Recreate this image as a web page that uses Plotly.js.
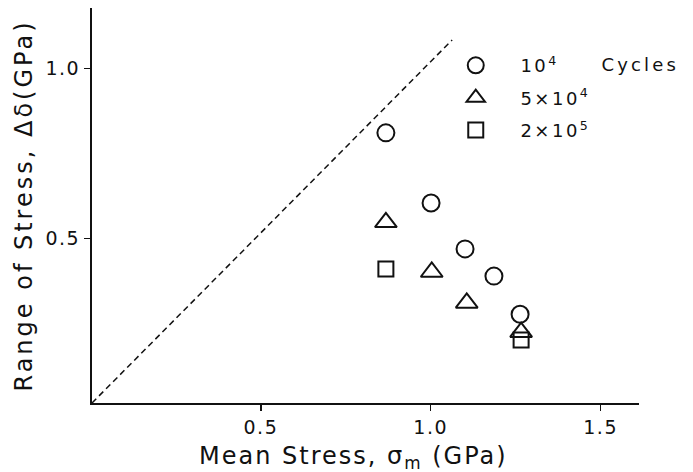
<!DOCTYPE html>
<html><head><meta charset="utf-8">
<script src="https://cdn.plot.ly/plotly-3.0.1.min.js"></script>
<style>
body{margin:0;background:#fff}
.ytitle { letter-spacing: 3px; }
.legendtext { letter-spacing: 2.5px; }
g.annotation[data-index="0"] text { letter-spacing: 3.2px; }
g.annotation[data-index="1"] text { letter-spacing: 2px; }
.xtick text, .ytick text { letter-spacing: 1.5px; }
</style>
</head><body><div id="chart" style="width:693px;height:472px"></div>
<script>
const seriesNames = ["\u00a0\u00a0\u00a010<sup>4</sup>", "\u00a0\u00a0\u00a05\u00d710<sup>4</sup>", "\u00a0\u00a0\u00a02\u00d710<sup>5</sup>"];
const circleX = [0.868, 1.001, 1.101, 1.186, 1.263];
const circleY = [0.811, 0.605, 0.470, 0.390, 0.278];
const triX = [0.868, 1.003, 1.106, 1.266];
const triY = [0.548, 0.402, 0.311, 0.225];
const sqX = [0.868, 1.266];
const sqY = [0.411, 0.202];
const lineX = [0.003, 1.063];
const lineY = [0.017, 1.084];
const xTicks = [0.5, 1.0, 1.5];
const yTicks = [0.5, 1.0];

const font = "DejaVu Sans, sans-serif";
const mk = (sym, size) => ({symbol: sym, size: size, color: '#111', line: {color: '#111', width: 2}});
const traces = [
  {x: lineX, y: lineY, mode: 'lines', line: {color: '#111', width: 1.5, dash: '6px,4px'}, showlegend: false, hoverinfo: 'skip'},
  {x: circleX, y: circleY, mode: 'markers', name: seriesNames[0], legendgroup: 'a', marker: mk('circle-open', 17)},
  {x: triX, y: triY, mode: 'markers', name: seriesNames[1], legendgroup: 'b', marker: mk('triangle-up-open', 19)},
  {x: sqX, y: sqY, mode: 'markers', name: seriesNames[2], legendgroup: 'c', marker: mk('square-open', 15)}
];
const layout = {
  width: 693, height: 472,
  margin: {l: 92, r: 54, t: 8, b: 69},
  paper_bgcolor: '#fff', plot_bgcolor: '#fff',
  font: {family: font, color: '#111', size: 18},
  xaxis: {range: [0.003, 1.613], tickvals: xTicks, ticktext: xTicks.map(v => v.toFixed(1)),
    showline: true, linecolor: '#111', linewidth: 2, ticks: 'outside', ticklen: 6, tickwidth: 1.5, tickcolor: '#111',
    showgrid: false, zeroline: false, tickfont: {size: 19}},
  yaxis: {range: [0.017, 1.178], tickvals: yTicks, ticktext: yTicks.map(v => v.toFixed(1)),
    showline: true, linecolor: '#111', linewidth: 2, ticks: 'outside', ticklen: 6, tickwidth: 1.5, tickcolor: '#111',
    showgrid: false, zeroline: false, tickfont: {size: 19},
    title: {text: 'Range of Stress, Δδ(GPa)', font: {size: 24}, standoff: 6}},
  showlegend: true,
  legend: {x: 0.665, y: 0.901, xanchor: 'left', yanchor: 'top', bgcolor: 'rgba(0,0,0,0)', font: {size: 18}, tracegroupgap: 6},
  annotations: [
    {xref: 'paper', yref: 'paper', x: 0.945, y: 0.856, xanchor: 'left', yanchor: 'middle', text: 'Cycles', showarrow: false, font: {size: 18}},
    {xref: 'paper', yref: 'paper', x: 0.478, y: -0.137, xanchor: 'center', yanchor: 'middle', text: 'Mean Stress, σ<sub>m</sub> (GPa)', showarrow: false, font: {size: 24}}
  ]
};
Plotly.newPlot('chart', traces, layout, {displayModeBar: false, staticPlot: true});
</script></body></html>
